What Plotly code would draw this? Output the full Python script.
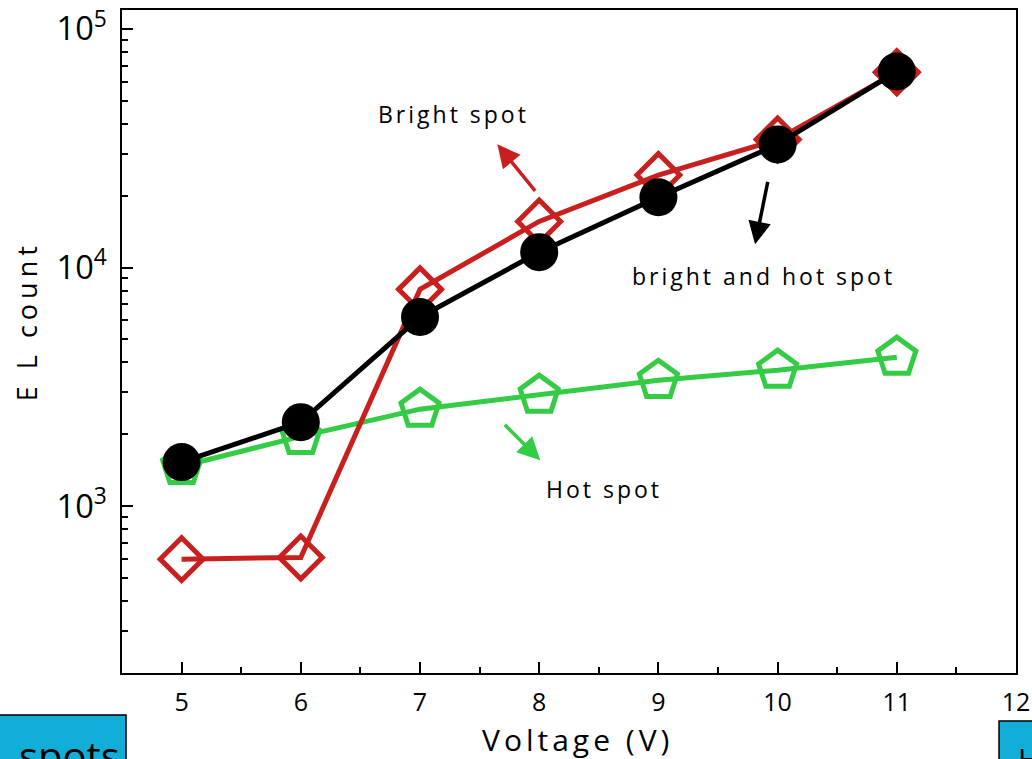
import plotly.graph_objects as go
import math

voltage = [5, 6, 7, 8, 9, 10, 11]
bright_spot = [600, 610, 8100, 15600, 24400, 34400, 65800]
bright_hot_spot = [1530, 2250, 6200, 11600, 19700, 32800, 66300]
hot_spot = [1470, 1960, 2550, 2920, 3370, 3715, 4210]
x_ticks = [5, 6, 7, 8, 9, 10, 11, 12]

RED = "#C8201E"
GREEN = "#33CC44"
FONT = "Open Sans"

def spaced(t, px):
    return f'<span style="letter-spacing:{px}px">{t}</span>'

fig = go.Figure()
fig.add_trace(go.Scatter(x=voltage, y=hot_spot, mode="lines+markers", name="Hot spot",
                         line=dict(color=GREEN, width=5),
                         marker=dict(symbol="pentagon-open", size=40, color=GREEN, line=dict(width=5, color=GREEN))))
fig.add_trace(go.Scatter(x=voltage, y=bright_spot, mode="lines+markers", name="Bright spot",
                         line=dict(color=RED, width=5),
                         marker=dict(symbol="diamond-open", size=33, color=RED, line=dict(width=5, color=RED))))
fig.add_trace(go.Scatter(x=voltage, y=bright_hot_spot, mode="lines+markers", name="bright and hot spot",
                         line=dict(color="black", width=5),
                         marker=dict(symbol="circle", size=38, color="black")))

fig.update_layout(
    width=1032, height=759,
    margin=dict(l=122, r=16, t=10, b=86, autoexpand=False),
    paper_bgcolor="white", plot_bgcolor="white",
    showlegend=False,
    font=dict(family=FONT, color="black"),
)
fig.update_xaxes(
    range=[4.5, 12.0], tickvals=x_ticks, ticktext=[str(v) for v in x_ticks],
    ticks="inside", ticklen=11, tickwidth=2, tickcolor="black",
    minor=dict(dtick=0.5, tick0=4.5, ticks="inside", ticklen=6, tickwidth=2, tickcolor="black"),
    showline=True, linewidth=2, linecolor="black", mirror=True,
    showgrid=False, zeroline=False, automargin=False, ticklabeloverflow="allow",
    tickfont=dict(size=25, family=FONT), ticklabelstandoff=6,
)
fig.update_yaxes(
    type="log", range=[math.log10(200), 5.079],
    dtick=1, exponentformat="power",
    ticks="inside", ticklen=11, tickwidth=2, tickcolor="black",
    minor=dict(dtick="D1", ticks="inside", ticklen=6, tickwidth=2, tickcolor="black"),
    showline=True, linewidth=2, linecolor="black", mirror=True,
    showgrid=False, zeroline=False, automargin=False, ticklabeloverflow="allow",
    tickfont=dict(size=26, family=FONT), ticklabelstandoff=8,
)

# axis titles
fig.add_annotation(xref="paper", yref="paper", x=0.509, y=-0.101, xanchor="center", yanchor="middle",
                   text=spaced("Voltage (V)", 4), showarrow=False, font=dict(size=30, family=FONT))
fig.add_annotation(xref="paper", yref="paper", x=-0.106, y=0.531, xanchor="center", yanchor="middle",
                   text=spaced("E L count", 5), textangle=-90, showarrow=False, font=dict(size=27, family=FONT))

# labels
fig.add_annotation(x=7.28, y=4.642, text=spaced("Bright spot", 3), showarrow=False, font=dict(size=23, family=FONT))
fig.add_annotation(x=9.878, y=3.963, text=spaced("bright and hot spot", 3), showarrow=False, font=dict(size=23, family=FONT))
fig.add_annotation(x=8.546, y=3.071, text=spaced("Hot spot", 3), showarrow=False, font=dict(size=23, family=FONT))

# arrows
fig.add_annotation(x=7.649, y=4.516, ax=39, ay=48, text="", showarrow=True,
                   arrowhead=2, arrowsize=1.3, arrowwidth=3.5, arrowcolor=RED)
fig.add_annotation(x=9.811, y=4.097, ax=13, ay=-64, text="", showarrow=True,
                   arrowhead=2, arrowsize=1.3, arrowwidth=3.5, arrowcolor="black")
fig.add_annotation(x=8.009, y=3.192, ax=-37, ay=-37, text="", showarrow=True,
                   arrowhead=2, arrowsize=1.3, arrowwidth=3.5, arrowcolor=GREEN)

# cropped slide boxes at bottom
fig.add_shape(type="rect", xref="paper", yref="paper",
              x0=-0.14, x1=0.0045, y0=-0.16, y1=-0.0633,
              fillcolor="#12AED8", line=dict(color="black", width=1.5), layer="above")
fig.add_annotation(xref="paper", yref="paper", x=0.0, y=-0.08, xanchor="right", yanchor="top",
                   text="spots", showarrow=False, font=dict(size=40, family=FONT, color="black"))
fig.add_shape(type="rect", xref="paper", yref="paper",
              x0=0.981, x1=1.03, y0=-0.16, y1=-0.0724,
              fillcolor="#12AED8", line=dict(color="black", width=1.5), layer="above")
fig.add_annotation(xref="paper", yref="paper", x=1.0, y=-0.095, xanchor="left", yanchor="top",
                   text="H", showarrow=False, font=dict(size=30, family=FONT, color="black"))

fig.write_html("out.html")
